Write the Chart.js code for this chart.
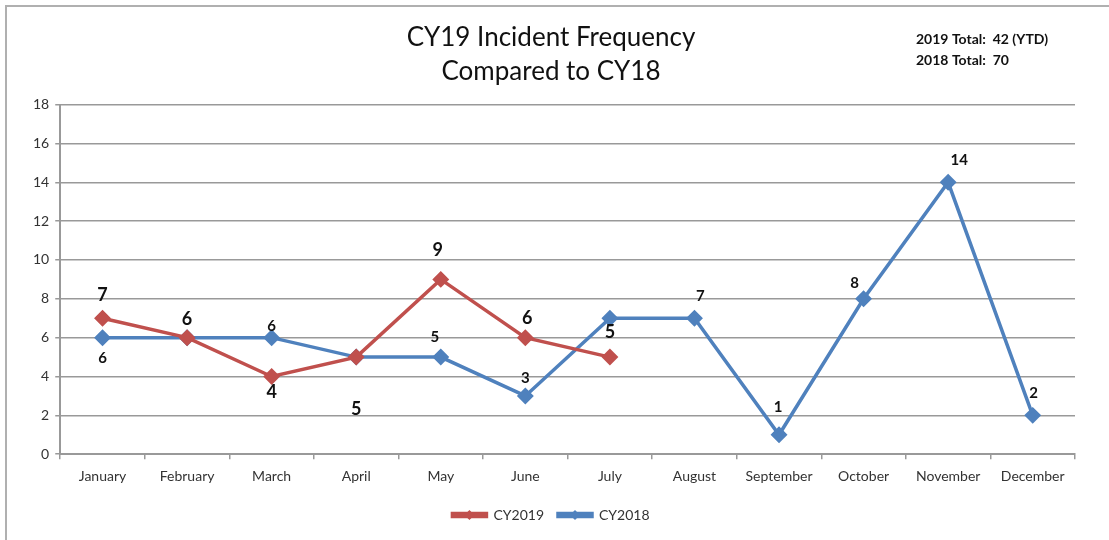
<!DOCTYPE html>
<html>
<head>
<meta charset="utf-8">
<script src="https://cdn.jsdelivr.net/npm/chart.js@4.4.1/dist/chart.umd.min.js"></script>
<style>
  body { margin: 0; background: #fff; }
  #wrap { width: 1109px; height: 540px; position: relative; }
</style>
</head>
<body>
<div id="wrap"><canvas id="chart"></canvas></div>
<script>
"use strict"

const months = ["January", "February", "March", "April", "May", "June", "July",
  "August", "September", "October", "November", "December"]
const cy2019 = [7, 6, 4, 5, 9, 6, 5]
const cy2018 = [6, 6, 6, 5, 5, 3, 7, 7, 1, 8, 14, 2]
const titleLines = ["CY19 Incident Frequency", "Compared to CY18"]
const totalLines = ["2019 Total:  42 (YTD)", "2018 Total:  70"]
const yMax = 18
const yStep = 2

// where each value label sits relative to its point (null = not shown)
const labelShift2019 = [[0, -23], [0, -18], [0, 16], [0, 52], [-3, -29], [2, -19], [0, -25]]
const labelShift2018 = [[0, 20], null, [0, -12], null, [-6, -20], [0, -18], null,
  [6, -22], [-1, -28], [-9, -16], [11, -22], [1, -22]]

const red = "#C0504D"
const blue = "#4F81BD"
const fontFam = "Lato, 'Open Sans', sans-serif"

const extras = {
  id: "extras",
  afterDraw(chart) {
    const ctx = chart.ctx
    ctx.save()

    // outer frame
    ctx.strokeStyle = "#b0b0b0"
    ctx.lineWidth = 2
    ctx.beginPath()
    ctx.moveTo(6, chart.height)
    ctx.lineTo(6, 6)
    ctx.lineTo(chart.width, 6)
    ctx.stroke()

    // totals top right
    ctx.fillStyle = "#111"
    ctx.font = "bold 14px " + fontFam
    ctx.textAlign = "left"
    ctx.textBaseline = "middle"
    ctx.fillText(totalLines[0], 916, 39)
    ctx.fillText(totalLines[1], 916, 60)

    // value labels
    const shifts = [labelShift2019, labelShift2018]
    const sizes = [18, 15]
    chart.data.datasets.forEach((ds, di) => {
      const meta = chart.getDatasetMeta(di)
      ctx.font = "bold " + sizes[di] + "px " + fontFam
      ctx.textAlign = "center"
      ctx.fillStyle = "#111"
      meta.data.forEach((pt, i) => {
        const s = shifts[di][i]
        if (!s) return
        ctx.fillText(String(ds.data[i]), pt.x + s[0], pt.y + s[1])
      })
    })

    // diamonds on the legend lines
    const legend = chart.legend
    legend.legendHitBoxes.forEach((box, i) => {
      const ds = chart.data.datasets[i]
      const cx = box.left + legend.options.labels.boxWidth / 2
      const cy = box.top + box.height / 2
      ctx.fillStyle = ds.borderColor
      ctx.beginPath()
      ctx.moveTo(cx, cy - 5)
      ctx.lineTo(cx + 5, cy)
      ctx.lineTo(cx, cy + 5)
      ctx.lineTo(cx - 5, cy)
      ctx.closePath()
      ctx.fill()
    })
    ctx.restore()
  }
}

new Chart(document.getElementById("chart"), {
  type: "line",
  data: {
    labels: months,
    datasets: [
      {
        label: "CY2019",
        data: cy2019,
        borderColor: red,
        backgroundColor: red,
        borderWidth: 3.5,
        pointStyle: "rectRot",
        pointRadius: 6,
        pointHoverRadius: 6
      },
      {
        label: "CY2018",
        data: cy2018,
        borderColor: blue,
        backgroundColor: blue,
        borderWidth: 3.5,
        pointStyle: "rectRot",
        pointRadius: 6,
        pointHoverRadius: 6
      }
    ]
  },
  options: {
    responsive: true,
    maintainAspectRatio: false,
    animation: false,
    layout: { padding: { left: 27, right: 34, top: 13, bottom: 8 } },
    plugins: {
      title: {
        display: true,
        text: titleLines,
        color: "#111",
        font: { family: fontFam, size: 26, weight: "normal", lineHeight: 1.3 },
        padding: { top: 8, bottom: 16 }
      },
      legend: {
        position: "bottom",
        labels: {
          color: "#333",
          font: { family: fontFam, size: 14 },
          boxWidth: 34,
          boxHeight: 3,
          padding: 14
        }
      },
      tooltip: { enabled: false }
    },
    scales: {
      x: {
        offset: true,
        grid: {
          offset: true,
          drawOnChartArea: false,
          drawTicks: true,
          tickLength: 5,
          color: "#999",
          lineWidth: 1.5
        },
        border: { color: "#999", width: 2 },
        ticks: {
          color: "#333",
          font: { family: fontFam, size: 14 },
          maxRotation: 0,
          padding: 9
        }
      },
      y: {
        min: 0,
        max: yMax,
        grid: {
          color: "#999",
          lineWidth: 1.5,
          tickLength: 5
        },
        border: { color: "#999", width: 2 },
        ticks: {
          stepSize: yStep,
          color: "#333",
          font: { family: fontFam, size: 14 },
          padding: 6
        }
      }
    }
  },
  plugins: [extras]
})
</script>
</body>
</html>
